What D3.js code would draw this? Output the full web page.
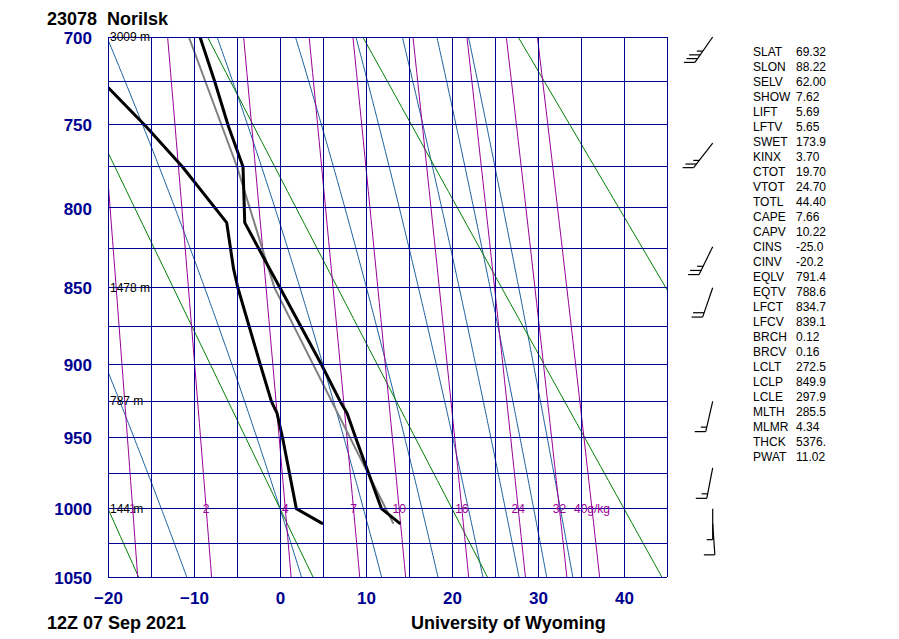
<!DOCTYPE html>
<html><head><meta charset="utf-8">
<script src="https://cdn.jsdelivr.net/npm/d3@7"></script>
<style>body{margin:0;background:#fff} svg{display:block}</style>
</head><body>
<svg id="c" width="899" height="639"></svg>
<script>
// ---------- data ----------
const stationId = "23078", stationName = "Norilsk";
const dateLabel = "12Z 07 Sep 2021", credit = "University of Wyoming";
const pressureLevels = [1011, 1000, 950, 933, 925, 900, 850, 838, 809, 775, 751, 725, 700];
const temperature    = [14.0, 11.8, 8.8, 7.8, 7.0, 4.8, 0.0, -1.2, -4.1, -4.3, -6.0, -7.6, -9.3];
const dewpoint       = [5.0, 1.9, 0.3, -0.35, -1.0, -2.3, -4.9, -5.4, -6.2, -11.35, -15.6, -20.7, -25.5];
const parcelPressure = [1011, 849.9, 814, 775, 700];
const parcelTemp     = [13.2, -0.65, -2.7, -5.0, -10.6];
const windPressure = [1011, 1000, 971, 925, 850, 824, 761, 700];
const windDir      = [176, 180, 191, 193, 199, 206, 218, 215];
const windSpeed    = [10, 5, 15, 15, 20, 25, 25, 35];
const heightPressure = [700, 850, 925, 1000];
const heightLabels   = ["3009 m", "1478 m", "787 m", "144 m"];
const pressureTicks = [700, 750, 800, 850, 900, 950, 1000, 1050];
const tempTicks = [-20, -10, 0, 10, 20, 30, 40];
const isobars = [700,725,750,775,800,825,850,875,900,925,950,975,1000,1025,1050];
const isotherms = [-20,-15,-10,-5,0,5,10,15,20,25,30,35,40,45];
const dryAdiabatTheta = [253.15, 273.15, 293.15, 313.15, 333.15];
const moistAdiabatTw = [-13.8, 0, 9.7, 16.5, 21.9, 26.2, 29.5, 32.6];
const mixingRatios = [1, 2, 4, 7, 10, 16, 24, 32, 40];
const mixingLabels = ["1", "2", "4", "7", "10", "16", "24", "32", "40g/kg"];
const indexNames = ["SLAT","SLON","SELV","SHOW","LIFT","LFTV","SWET","KINX","CTOT","VTOT","TOTL","CAPE","CAPV","CINS","CINV","EQLV","EQTV","LFCT","LFCV","BRCH","BRCV","LCLT","LCLP","LCLE","MLTH","MLMR","THCK","PWAT"];
const indexValues = ["69.32","88.22","62.00","7.62","5.69","5.65","173.9","3.70","19.70","24.70","44.40","7.66","10.22","-25.0","-20.2","791.4","788.6","834.7","839.1","0.12","0.16","272.5","849.9","297.9","285.5","4.34","5376.","11.02"];

// ---------- setup ----------
const FONT = "'Liberation Sans', Arial, Helvetica, sans-serif";
const NAVY = "#000090", GREEN = "#008000", PURPLE = "#990099", MBLUE = "#1a5fa0";
const svg = d3.select("#c");
const x = d3.scaleLinear().domain([-20, 45]).range([108, 667]);
const y = d3.scalePow().exponent(0.286).domain([700, 1050]).range([37, 577]);
const X0 = 108, X1 = 667, Y0 = 37, Y1 = 577;

svg.append("clipPath").attr("id", "plot").append("rect")
  .attr("x", X0).attr("y", Y0).attr("width", X1 - X0).attr("height", Y1 - Y0);
const g = svg.append("g").attr("clip-path", "url(#plot)");
const line = d3.line().x(d => x(d[1])).y(d => y(d[0]));

// thermodynamics for background lines
const Rd = 287.04, cp = 1005.7, Lv = 2.501e6, eps = 0.622;
const esat = T => 6.112 * Math.exp(17.67 * T / (T + 243.5));
const rsat = (T, p) => eps * esat(T) / (p - esat(T));
function dTdp(T, p) { const K = T + 273.15, rs = rsat(T, p);
  return (Rd * K + Lv * rs) / (p * (cp + Lv * Lv * rs * eps / (Rd * K * K))); }
function rk4(T, p, h) { const k1 = dTdp(T, p), k2 = dTdp(T + h * k1 / 2, p + h / 2),
  k3 = dTdp(T + h * k2 / 2, p + h / 2), k4 = dTdp(T + h * k3, p + h);
  return T + h * (k1 + 2 * k2 + 2 * k3 + k4) / 6; }
function moist(tw) {
  const up = [[1000, tw]]; let T = tw, p = 1000;
  while (p > 700) { T = rk4(T, p, -2); p -= 2; up.push([p, T]); }
  const dn = []; T = tw; p = 1000;
  while (p < 1050) { T = rk4(T, p, 2); p += 2; dn.push([p, T]); }
  return dn.reverse().concat(up);
}
function tdFromW(w, p) { const e = w * p / (622 + w), l = Math.log(e / 6.112); return 243.5 * l / (17.67 - l); }

// moist adiabats
moistAdiabatTw.forEach(tw => g.append("path").attr("d", line(moist(tw)))
  .attr("fill", "none").attr("stroke", MBLUE).attr("stroke-width", 1));
// dry adiabats
dryAdiabatTheta.forEach(th => {
  const pts = d3.range(700, 1051, 10).map(p => [p, th * Math.pow(p / 1000, 0.286) - 273.15]);
  g.append("path").attr("d", line(pts)).attr("fill", "none").attr("stroke", GREEN).attr("stroke-width", 1);
});
// mixing ratio lines
mixingRatios.forEach(w => {
  const pts = d3.range(700, 1051, 10).map(p => [p, tdFromW(w, p)]);
  g.append("path").attr("d", line(pts)).attr("fill", "none").attr("stroke", PURPLE).attr("stroke-width", 1);
});
// grid
isotherms.forEach(t => svg.append("line").attr("x1", x(t)).attr("x2", x(t)).attr("y1", Y0).attr("y2", Y1)
  .attr("stroke", NAVY).attr("stroke-width", 1).attr("shape-rendering", "crispEdges"));
isobars.forEach(p => svg.append("line").attr("x1", X0).attr("x2", X1).attr("y1", y(p)).attr("y2", y(p))
  .attr("stroke", NAVY).attr("stroke-width", 1).attr("shape-rendering", "crispEdges"));

// mixing ratio labels
mixingRatios.forEach((w, i) => svg.append("text").attr("x", x(tdFromW(w, 1000))).attr("y", y(1000) + 4.5)
  .attr("text-anchor", "middle").attr("font-family", FONT).attr("font-size", 12).attr("fill", PURPLE).text(mixingLabels[i]));

// height labels
heightPressure.forEach((p, i) => svg.append("text").attr("x", 110).attr("y", y(p) + 4)
  .attr("font-family", FONT).attr("font-size", 12).attr("fill", "#000").text(heightLabels[i]));

// parcel
const parcel = parcelPressure.map((p, i) => [p, parcelTemp[i]]);
g.append("path").attr("d", line(parcel)).attr("fill", "none").attr("stroke", "#808080").attr("stroke-width", 2);
// temperature & dewpoint
const tData = pressureLevels.map((p, i) => [p, temperature[i]]);
const dData = pressureLevels.map((p, i) => [p, dewpoint[i]]);
[tData, dData].forEach(d => g.append("path").attr("d", line(d)).attr("fill", "none")
  .attr("stroke", "#000").attr("stroke-width", 3).attr("stroke-linejoin", "round"));

// axes labels
const yAxis = d3.axisLeft(y).tickValues(pressureTicks).tickSize(0).tickPadding(0).tickFormat(d3.format("d"));
const ya = svg.append("g").attr("transform", "translate(92,0)").call(yAxis);
ya.select(".domain").remove();
ya.selectAll("text").attr("font-family", FONT).attr("font-size", 17).attr("font-weight", "bold")
  .attr("fill", NAVY).attr("dy", "0.36em").attr("x", 0);
const xAxis = d3.axisBottom(x).tickValues(tempTicks).tickSize(0).tickPadding(0).tickFormat(d3.format("d"));
const xa = svg.append("g").attr("transform", "translate(0,592)").call(xAxis);
xa.select(".domain").remove();
xa.selectAll("text").attr("font-family", FONT).attr("font-size", 17).attr("font-weight", "bold")
  .attr("fill", NAVY).attr("dy", "0.71em").attr("y", 0);

// titles
const bold = (tx, xx, yy, anchor) => svg.append("text").attr("x", xx).attr("y", yy).attr("text-anchor", anchor || "start")
  .attr("font-family", FONT).attr("font-size", 18).attr("font-weight", "bold").attr("fill", "#000").text(tx);
bold(stationId, 47, 25); bold(stationName, 107, 25);
bold(dateLabel, 47, 629); bold(credit, 411, 629);

// indices
indexNames.forEach((n, i) => {
  svg.append("text").attr("x", 753).attr("y", 56 + 15 * i).attr("font-family", FONT).attr("font-size", 12).text(n);
  svg.append("text").attr("x", 796).attr("y", 56 + 15 * i).attr("font-family", FONT).attr("font-size", 12).text(indexValues[i]);
});

// wind barbs
const BX = 712.7, L = 31, SP = 4.6, FULL = 11, HALF = 6;
windPressure.forEach((p, i) => {
  const sx = BX, sy = y(p), a = windDir[i] * Math.PI / 180;
  const ux = Math.sin(a), uy = -Math.cos(a);
  const ex = sx + L * ux, ey = sy + L * uy;
  const gb = svg.append("g").attr("stroke", "#000").attr("stroke-width", 1.2).attr("fill", "none");
  gb.append("line").attr("x1", sx).attr("y1", sy).attr("x2", ex).attr("y2", ey);
  let s = windSpeed[i]; let k = 0;
  const full = Math.floor(s / 10), half = (s % 10) >= 5 ? 1 : 0;
  for (let j = 0; j < full + half; j++) {
    const px = ex - k * SP * ux, py = ey - k * SP * uy;
    const len = j < full ? FULL : HALF;
    gb.append("line").attr("x1", px).attr("y1", py).attr("x2", px - len).attr("y2", py);
    k++;
  }
});
</script>
</body></html>
